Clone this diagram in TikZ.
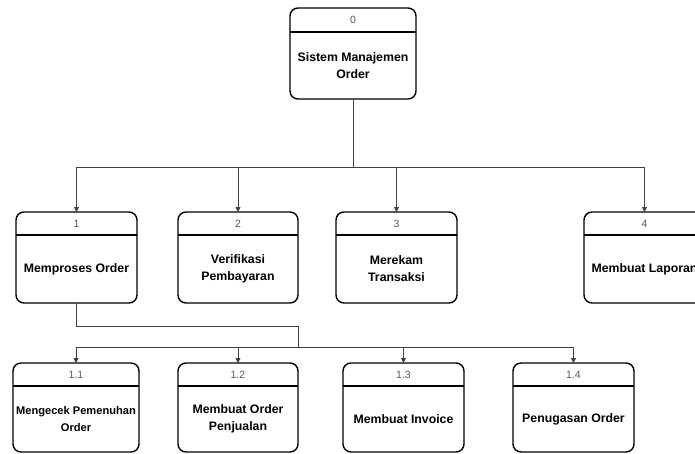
\documentclass[tikz,border=0pt]{standalone}
\usepackage{fontspec}
\setmainfont{Liberation Sans}
\usetikzlibrary{arrows.meta,calc}
\newcommand\mkproc[8]{%
  \node[pbox, minimum width={(#4-#2)*1pt}, minimum height={(#5-#3)*1pt}] (#1) at ({(#2+#4)/2},{-(#3+#5)/2}) {};
  \draw[divline] (#2,-#6) -- (#4,-#6);
  \node[numtxt] (#1n) at ({(#2+#4)/2},{-(#3+#6)/2}) {#7};
  \node[maintxt] (#1t) at ({(#2+#4)/2},{-(#6+#5)/2}) {#8};
}
\begin{document}
\begin{tikzpicture}[x=1pt,y=1pt,
  pbox/.style={draw=black, line width=1.4pt, rounded corners=8pt, fill=white, inner sep=0pt, outer sep=0pt},
  divline/.style={line width=1.4pt},
  numtxt/.style={font=\fontsize{10.5}{12}\selectfont, text=black!65, inner sep=0pt},
  maintxt/.style={font=\bfseries\fontsize{12.3}{17}\selectfont, align=center, inner sep=0pt},
  conn/.style={line width=0.8pt, draw=black!75},
  arr/.style={conn, -{Triangle[length=5pt,width=5pt]}}]
\useasboundingbox (0,0) rectangle (695,-453);
\clip (0,0) rectangle (695,-453);

\mkproc{p0}{290}{8}{416}{99}{32}{0}{Sistem Manajemen\\Order}
\mkproc{p1}{16}{212}{137}{303}{235}{1}{Memproses Order}
\mkproc{p2}{178}{212}{298}{303}{235}{2}{Verifikasi\\Pembayaran}
\mkproc{p3}{336}{212}{457}{303}{235}{3}{Merekam\\Transaksi}
\mkproc{p4}{584}{212}{705}{303}{235}{4}{Membuat Laporan}

\mkproc{c1}{13}{363}{139}{452}{386}{1.1}{\fontsize{11.1}{17}\selectfont Mengecek Pemenuhan\\\fontsize{11.1}{17}\selectfont Order}
\mkproc{c2}{178}{363}{298}{452}{386}{1.2}{Membuat Order\\Penjualan}
\mkproc{c3}{343}{363}{464}{452}{386}{1.3}{Membuat Invoice}
\mkproc{c4}{513}{363}{634}{452}{386}{1.4}{Penugasan Order}

\coordinate (b0) at (353,-167);
\draw[arr] (p0.south) -- (b0) -| (p1.north);
\draw[arr] (b0) -| (p2.north);
\draw[arr] (b0) -| (p3.north);
\draw[arr] (b0) -| (p4.north);

\coordinate (k1) at (298,-326);
\coordinate (b1) at (298,-347);
\draw[arr] (p1.south) |- (k1) -- (b1) -| (c1.north);
\draw[arr] (b1) -| (c2.north);
\draw[arr] (b1) -| (c3.north);
\draw[arr] (b1) -| (c4.north);
\end{tikzpicture}
\end{document}
